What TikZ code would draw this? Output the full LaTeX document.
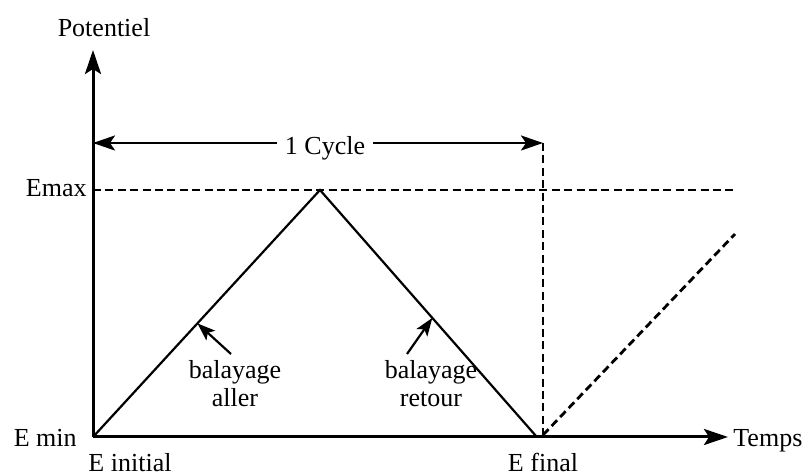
\documentclass[tikz,border=0pt]{standalone}
\usepackage{fontspec}
\setmainfont{Liberation Serif}
\usetikzlibrary{arrows.meta,positioning,calc}

\begin{document}
\begin{tikzpicture}[
  x=0.5pt, y=-0.5pt,
  every node/.style={font=\fontsize{13}{14}\selectfont, inner sep=0pt, text=black},
  axe/.style={-{Stealth[length=12pt, width=8pt, inset=2.5pt]}, line width=1.5pt},
  balai/.style={line width=1.1pt},
  tiret/.style={dash pattern=on 4pt off 2.2pt, line width=1.4pt},
  cyclefl/.style={-{Stealth[length=11pt, width=7.5pt, inset=2.5pt]}, line width=1.3pt},
  fleche/.style={-{Stealth[length=9pt, width=6.5pt, inset=2pt]}, line width=1.1pt},
  lbl/.style={align=center},
]
  \useasboundingbox (0,0) rectangle (810,475);

  %% ---- Points du cycle ----
  \coordinate (O)     at (93,437);
  \coordinate (ytop)  at (93,50);
  \coordinate (xend)  at (728,437);
  \coordinate (pic)   at (320,190);
  \coordinate (fin)   at (536,436);
  \coordinate (emaxd) at (735,190);
  \coordinate (cyc0)  at (93,143);
  \coordinate (cyc1)  at (543,143);
  \coordinate (base)  at (543,435);
  \coordinate (suite) at (735,234);

  %% ---- Axes ----
  \draw[axe] (O) -- (ytop);
  \draw[axe] (O) -- (xend);

  %% ---- Etiquettes des axes ----
  \node[anchor=base]      (pot)   at (104,37)  {Potentiel};
  \node[anchor=base west] (temps) at (733,447) {Temps};
  \node[anchor=base east] (emax)  at (87,197)  {Emax};
  \node[anchor=base east] (emin)  at (77,447)  {E min};
  \node[anchor=base]      (einit) at (130,472) {E initial};
  \node[anchor=base]      (efin)  at (543,472) {E final};

  %% ---- Balayage aller / retour ----
  \draw[balai] (O) -- (pic) -- (fin);
  \draw[tiret] (O |- pic) -- (emaxd);

  %% ---- 1 Cycle ----
  \node[anchor=base, inner xsep=4pt] (cyc) at (325,155) {1 Cycle};
  \draw[cyclefl] (cyc.west |- cyc0) -- (cyc0);
  \draw[cyclefl] (cyc.east |- cyc1) -- (cyc1);
  \draw[tiret] (cyc1) -- (base);
  \draw[tiret] (base) -- (suite);

  %% ---- Annotations ----
  \node[lbl, anchor=north] (aller)  at (235,360) {balayage\\aller};
  \node[lbl, anchor=north] (retour) at (431,360) {balayage\\retour};
  \coordinate (pa) at ($(O)!0.46!(pic)$);
  \coordinate (pr) at ($(pic)!0.52!(fin)$);
  \draw[fleche] ([xshift=-2pt,yshift=3pt]aller.north) -- (pa);
  \draw[fleche] ([xshift=-12pt,yshift=3pt]retour.north) -- (pr);

\end{tikzpicture}
\end{document}
